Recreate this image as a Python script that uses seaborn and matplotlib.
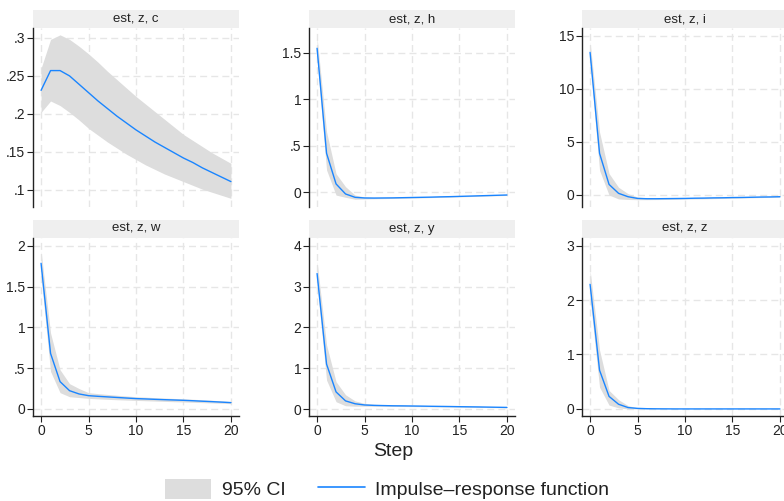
import numpy as np
import pandas as pd
import seaborn as sns
import matplotlib.pyplot as plt
from matplotlib.patches import Rectangle, Patch
from matplotlib.lines import Line2D
from matplotlib.ticker import FuncFormatter

steps = list(range(21))

# impulse-response of z on each variable, with 95% CI bounds
irf_c = [0.231, 0.257, 0.257, 0.250, 0.239, 0.228, 0.217, 0.207, 0.197, 0.188, 0.179,
         0.171, 0.163, 0.156, 0.149, 0.142, 0.136, 0.129, 0.123, 0.117, 0.111]
lo_c = [0.202, 0.217, 0.211, 0.202, 0.192, 0.181, 0.172, 0.163, 0.155, 0.147, 0.140,
        0.133, 0.127, 0.121, 0.116, 0.111, 0.106, 0.101, 0.097, 0.093, 0.089]
hi_c = [0.260, 0.298, 0.304, 0.298, 0.289, 0.279, 0.268, 0.256, 0.245, 0.234, 0.223,
        0.213, 0.203, 0.193, 0.183, 0.173, 0.165, 0.157, 0.149, 0.142, 0.135]

irf_h = [1.547, 0.419, 0.090, -0.018, -0.054, -0.061, -0.062, -0.061, -0.060, -0.058, -0.056,
         -0.054, -0.052, -0.049, -0.047, -0.044, -0.041, -0.038, -0.035, -0.032, -0.029]
lo_h = [1.43, 0.24, -0.03, -0.054, -0.075, -0.072, -0.070, -0.068, -0.066, -0.064, -0.062,
        -0.060, -0.057, -0.055, -0.052, -0.049, -0.046, -0.043, -0.040, -0.037, -0.034]
hi_h = [1.665, 0.65, 0.20, 0.06, -0.03, -0.050, -0.054, -0.054, -0.054, -0.052, -0.050,
        -0.048, -0.047, -0.044, -0.042, -0.039, -0.036, -0.033, -0.030, -0.027, -0.024]

irf_i = [13.43, 3.90, 0.97, 0.13, -0.19, -0.35, -0.38, -0.38, -0.37, -0.36, -0.35,
         -0.33, -0.32, -0.30, -0.29, -0.27, -0.26, -0.24, -0.22, -0.21, -0.19]
lo_i = [12.5, 2.3, -0.03, -0.40, -0.45, -0.47, -0.47, -0.46, -0.45, -0.44, -0.42,
        -0.40, -0.39, -0.37, -0.35, -0.33, -0.31, -0.29, -0.27, -0.25, -0.23]
hi_i = [14.4, 5.9, 2.0, 0.70, 0.10, -0.22, -0.29, -0.30, -0.30, -0.29, -0.28,
        -0.26, -0.25, -0.24, -0.23, -0.21, -0.20, -0.19, -0.17, -0.16, -0.15]

irf_w = [1.784, 0.68, 0.335, 0.224, 0.184, 0.163, 0.155, 0.148, 0.141, 0.134, 0.127,
         0.123, 0.118, 0.114, 0.110, 0.106, 0.101, 0.095, 0.090, 0.084, 0.078]
lo_w = [1.62, 0.46, 0.20, 0.15, 0.14, 0.130, 0.124, 0.118, 0.113, 0.109, 0.105,
        0.101, 0.097, 0.093, 0.089, 0.086, 0.082, 0.078, 0.074, 0.070, 0.065]
hi_w = [1.93, 0.93, 0.48, 0.31, 0.25, 0.200, 0.188, 0.178, 0.168, 0.159, 0.150,
        0.145, 0.139, 0.134, 0.129, 0.124, 0.119, 0.113, 0.107, 0.099, 0.090]

irf_y = [3.32, 1.10, 0.42, 0.20, 0.13, 0.100, 0.090, 0.085, 0.080, 0.078, 0.075,
         0.072, 0.068, 0.065, 0.062, 0.058, 0.055, 0.052, 0.048, 0.044, 0.040]
lo_y = [3.05, 0.71, 0.18, 0.08, 0.07, 0.070, 0.068, 0.066, 0.064, 0.062, 0.060,
        0.058, 0.055, 0.052, 0.050, 0.047, 0.044, 0.041, 0.038, 0.034, 0.030]
hi_y = [3.61, 1.57, 0.67, 0.35, 0.20, 0.140, 0.118, 0.108, 0.100, 0.095, 0.090,
        0.087, 0.083, 0.080, 0.076, 0.072, 0.068, 0.064, 0.060, 0.055, 0.050]

irf_z = [2.29, 0.71, 0.23, 0.086, 0.025, 0.010, 0.004, 0.002, 0.001, 0.0, 0.0,
         0.0, 0.0, 0.0, 0.0, 0.0, 0.0, 0.0, 0.0, 0.0, 0.0]
lo_z = [2.03, 0.40, 0.07, 0.02, 0.0, 0.0, 0.0, 0.0, 0.0, 0.0, 0.0,
        0.0, 0.0, 0.0, 0.0, 0.0, 0.0, 0.0, 0.0, 0.0, 0.0]
hi_z = [2.55, 1.08, 0.34, 0.17, 0.06, 0.02, 0.008, 0.004, 0.002, 0.0, 0.0,
        0.0, 0.0, 0.0, 0.0, 0.0, 0.0, 0.0, 0.0, 0.0, 0.0]

titles = ["est, z, c", "est, z, h", "est, z, i", "est, z, w", "est, z, y", "est, z, z"]
irfs = [irf_c, irf_h, irf_i, irf_w, irf_y, irf_z]
lows = [lo_c, lo_h, lo_i, lo_w, lo_y, lo_z]
highs = [hi_c, hi_h, hi_i, hi_w, hi_y, hi_z]
yticks = [[.1, .15, .2, .25, .3], [0, .5, 1, 1.5], [0, 5, 10, 15],
          [0, .5, 1, 1.5, 2], [0, 1, 2, 3, 4], [0, 1, 2, 3]]
ylims = [(0.0776, 0.313), (-0.158, 1.765), (-1.16, 15.73),
         (-0.086, 2.094), (-0.17, 4.19), (-0.13, 3.14)]
xticks = [0, 5, 10, 15, 20]

sns.set_style("white")
plt.rcParams['font.family'] = ['Liberation Sans', 'DejaVu Sans']

line_color = "#1a85ff"
ci_color = "#dddddd"
txt_color = "#222222"
W, H = 784, 501


def stata_fmt(v, pos):
    s = f"{v:g}"
    if s.startswith("0."):
        s = s[1:]
    elif s.startswith("-0."):
        s = "-" + s[2:]
    return s


fig = plt.figure(figsize=(W / 100, H / 100), dpi=100)

col_left = [33, 309, 582]
row_top = [28, 238]
row_bot = [207, 416]
panel_w = 206
strip_h = 18

for k in range(6):
    r, c = divmod(k, 3)
    left = col_left[c] / W
    bottom = 1 - row_bot[r] / H
    height = (row_bot[r] - row_top[r]) / H
    ax = fig.add_axes([left, bottom, panel_w / W, height])

    df = pd.DataFrame({"step": steps, "irf": irfs[k], "lo": lows[k], "hi": highs[k]})
    ax.fill_between(df["step"], df["lo"], df["hi"], color=ci_color, linewidth=0, zorder=1)
    sns.lineplot(data=df, x="step", y="irf", ax=ax, color=line_color, linewidth=1.0, zorder=3)

    ax.set_xlim(-0.85, 20.85)
    ax.set_ylim(*ylims[k])
    ax.set_xticks(xticks)
    ax.set_yticks(yticks[k])
    ax.yaxis.set_major_formatter(FuncFormatter(stata_fmt))
    ax.grid(True, color="#e6e6e6", linestyle=(0, (5, 3)), linewidth=1.0, zorder=0)
    ax.set_axisbelow(True)
    ax.set_xlabel("")
    ax.set_ylabel("")

    for s in ["top", "right"]:
        ax.spines[s].set_visible(False)
    ax.spines["left"].set_color(txt_color)
    ax.spines["left"].set_linewidth(1.0)
    ax.tick_params(axis="y", left=True, length=4, width=0.8, color=txt_color,
                   labelsize=10, pad=1.5, labelcolor=txt_color)
    if r == 0:
        ax.spines["bottom"].set_visible(False)
        ax.tick_params(axis="x", bottom=False, labelbottom=False)
    else:
        ax.spines["bottom"].set_color(txt_color)
        ax.spines["bottom"].set_linewidth(1.0)
        ax.tick_params(axis="x", bottom=True, length=4, width=0.8, color=txt_color,
                       labelsize=10, pad=1.5, labelcolor=txt_color)

    # strip header
    ax.add_patch(Rectangle((0, 1), 1, strip_h / (row_bot[r] - row_top[r]),
                           transform=ax.transAxes, facecolor="#efefef",
                           edgecolor="none", clip_on=False, zorder=0))
    ax.text(0.5, 1 + strip_h / 2 / (row_bot[r] - row_top[r]), titles[k],
            transform=ax.transAxes, ha="center", va="center", fontsize=9.5,
            color=txt_color)

fig.text(393 / W, 1 - 452 / H, "Step", ha="center", va="center", fontsize=14,
         color=txt_color)

handles = [Patch(facecolor=ci_color, edgecolor="none"),
           Line2D([0], [0], color=line_color, linewidth=1.2)]
fig.legend(handles, ["95% CI", "Impulse\u2013response function"], loc="center",
           bbox_to_anchor=(387 / W, 1 - 489 / H), ncol=2, frameon=False,
           fontsize=14, handlelength=2.4, handleheight=1.25, columnspacing=1.65,
           handletextpad=0.55, labelcolor=txt_color, borderpad=0.2)

fig.savefig("out.png", dpi=100)
